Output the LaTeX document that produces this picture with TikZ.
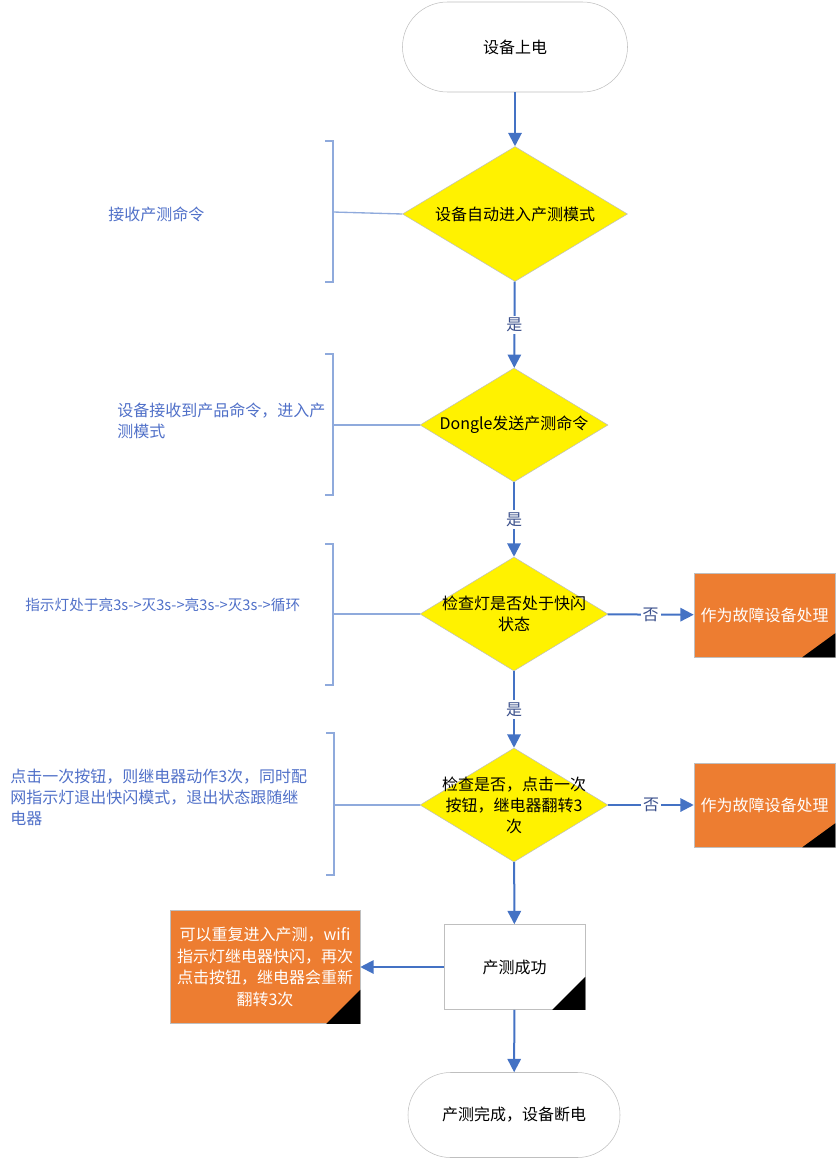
\documentclass[tikz,border=0pt]{standalone}
\usepackage{fontspec}
\setmainfont{Noto Sans CJK SC}
\usepackage{tikz}
\usetikzlibrary{shapes.geometric, arrows.meta, positioning}
\definecolor{flowblue}{RGB}{68,114,196}
\definecolor{notecol}{RGB}{80,112,200}
\definecolor{bracecol}{RGB}{143,170,220}
\definecolor{labcol}{RGB}{59,80,140}
\definecolor{failor}{RGB}{237,125,49}
\definecolor{edgegray}{RGB}{191,191,191}

\begin{document}
\begin{tikzpicture}[
    x=0.75pt, y=-0.75pt,
    font=\fontsize{12}{15.8}\selectfont,
    term/.style={
      draw=edgegray, fill=white, align=center, inner sep=0pt
    },
    dec/.style={
      diamond, draw=edgegray, fill=yellow, inner sep=0pt,
      minimum width=141pt, minimum height=85.5pt
    },
    dlab/.style={align=center, text=black},
    fbox/.style={
      draw=edgegray, fill=failor, text=white, align=center,
      minimum width=105.75pt, minimum height=63pt, inner sep=0pt
    },
    note/.style={anchor=west, align=left, text=notecol, inner sep=0pt},
    fl/.style={-{Triangle[length=10pt, width=10pt]}, draw=flowblue, line width=1.5pt},
    brace/.style={draw=bracecol, line width=1pt},
    yn/.style={fill=white, text=labcol, inner sep=1.5pt}
  ]
    \useasboundingbox (0,0) rectangle (838,1160);

    % --- 主流程 ---
    \node[term, minimum width=168.75pt, minimum height=67.5pt, rounded corners=33.7pt]
      (start) at (515,47) {设备上电};
    \node[dec, minimum width=168.75pt, minimum height=101.25pt,
      label={[dlab]center:设备自动进入产测模式}] (chk1) at (515,214) {};
    \node[dec, label={[dlab]center:Dongle发送产测命令}] (chk2) at (514,425) {};
    \node[dec, label={[dlab]center:检查灯是否处于快闪\\状态}] (chk3) at (514,614) {};
    \node[dec, label={[dlab]center:检查是否，点击一次\\按钮，继电器翻转3\\次}] (chk4) at (514,805) {};
    \node[fbox, fill=white, text=black, minimum height=63.75pt] (ok) at (514.5,967) {产测成功};
    \node[term, minimum width=159pt, minimum height=63.75pt, rounded corners=31.8pt]
      (stop) at (514,1115) {产测完成，设备断电};

    \draw[fl] (start) -- (chk1);
    \draw[fl] (chk1) -- node[yn] {是} (chk2);
    \draw[fl] (chk2) -- node[yn] {是} (chk3);
    \draw[fl] (chk3) -- node[yn] {是} (chk4);
    \draw[fl] (chk4) -- (ok);
    \draw[fl] (ok) -- (stop);

    % --- 故障处理 ---
    \node[fbox] (fail1) at (764.5,615) {作为故障设备处理};
    \node[fbox] (fail2) at (764.5,805) {作为故障设备处理};
    \node[fbox, minimum width=142.5pt, minimum height=84.75pt,
      font=\fontsize{12}{16.3}\selectfont] (retry) at (265,967)
      {可以重复进入产测，wifi\\指示灯继电器快闪，再次\\点击按钮，继电器会重新\\翻转3次};
    \fill (fail1.south east) -- ++(-33,0) -- ++(33,-24) -- cycle;
    \fill (fail2.south east) -- ++(-33,0) -- ++(33,-24) -- cycle;
    \fill (ok.south east) -- ++(-33,0) -- ++(33,-33) -- cycle;
    \fill (retry.south east) -- ++(-34,0) -- ++(34,-34) -- cycle;

    \draw[fl] (chk3) -- node[yn] {否} (fail1);
    \draw[fl] (chk4) -- node[yn] {否} (fail2);
    \draw[fl] (ok) -- (retry);

    % --- 左侧说明 ---
    \node[note] (note1) at (108,214) {接收产测命令};
    \node[note] (note2) at (117,421) {设备接收到产品命令，进入产\\测模式};
    \node[note, font=\fontsize{11}{15}\selectfont] (note3) at (25,605)
      {指示灯处于亮3s->灭3s->亮3s->灭3s->循环};
    \node[note] (note4) at (10,797) {点击一次按钮，则继电器动作3次，同时配\\网指示灯退出快闪模式，退出状态跟随继\\电器};

    \coordinate (br1) at (333,212);
    \coordinate (br2) at (333,425);
    \coordinate (br3) at (333,614);
    \coordinate (br4) at (334,805);
    \draw[brace] (325,141) -- (333,141) -- (333,282) -- (325,282);
    \draw[brace] (325,354) -- (333,354) -- (333,495) -- (325,495);
    \draw[brace] (325,544) -- (333,544) -- (333,685) -- (325,685);
    \draw[brace] (326,733) -- (334,733) -- (334,875) -- (326,875);
    \draw[brace] (br1) -- (chk1.west);
    \draw[brace] (br2) -- (chk2.west);
    \draw[brace] (br3) -- (chk3.west);
    \draw[brace] (br4) -- (chk4.west);
  \end{tikzpicture}
\end{document}
